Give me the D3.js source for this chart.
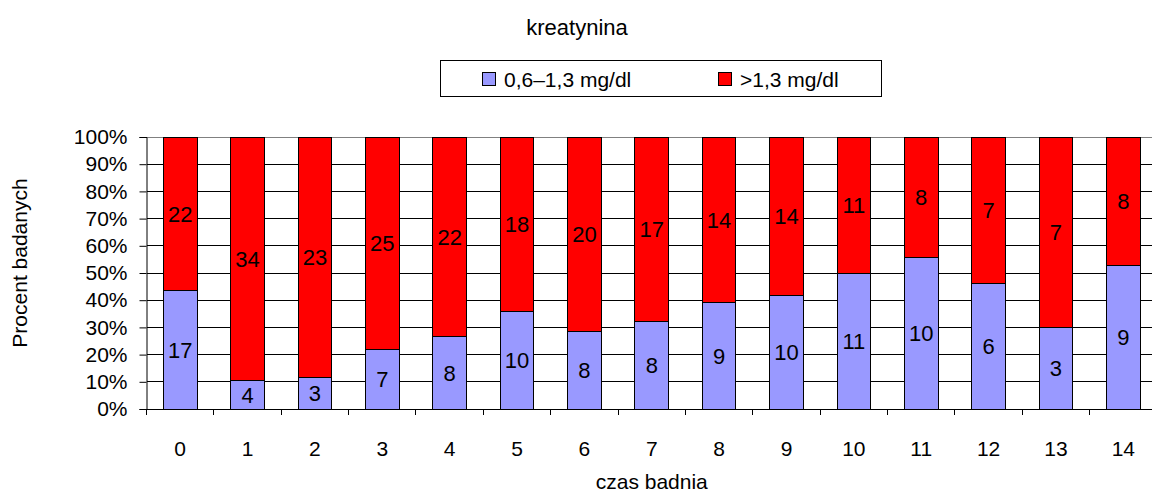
<!DOCTYPE html>
<html>
<head>
<meta charset="utf-8">
<script src="https://cdn.jsdelivr.net/npm/d3@7"></script>
<style>
  body { margin: 0; background: #fff; }
  svg { display: block; font-family: "Liberation Sans", Arial, sans-serif; }
</style>
</head>
<body>
<div id="chart"></div>
<script>
// categories (czas badnia) and counts for each series
const categories = ["0","1","2","3","4","5","6","7","8","9","10","11","12","13","14"];
const lowCounts  = [17, 4, 3, 7, 8, 10, 8, 8, 9, 10, 11, 10, 6, 3, 9];
const highCounts = [22, 34, 23, 25, 22, 18, 20, 17, 14, 14, 11, 8, 7, 7, 8];
const seriesNames = ["0,6\u20131,3 mg/dl", ">1,3 mg/dl"];
const seriesColors = ["#9999FF", "#FF0000"];
const yTicks = [0, 0.1, 0.2, 0.3, 0.4, 0.5, 0.6, 0.7, 0.8, 0.9, 1];

const wid = 1152, hei = 493;
// plot area (runs a bit past the right edge, like the reference)
const pLeft = 146.5, pRight = 1157, pTop = 137, pBottom = 409;

const svg = d3.select("#chart").append("svg")
  .attr("width", wid).attr("height", hei);

// stacked shares
const rows = categories.map((c, i) => ({cat: c, low: lowCounts[i], high: highCounts[i]}));
const stack = d3.stack().keys(["low", "high"]).offset(d3.stackOffsetExpand);
const layers = stack(rows);

const xScale = d3.scaleBand().domain(categories).range([pLeft, pRight])
  .paddingInner(0.5).paddingOuter(0.25);
const yScale = d3.scaleLinear().domain([0, 1]).range([pBottom, pTop]);

// grid lines
svg.append("g")
  .selectAll("line")
  .data(yTicks.slice(1))
  .enter().append("line")
  .attr("x1", pLeft).attr("x2", pRight)
  .attr("y1", d => yScale(d)).attr("y2", d => yScale(d))
  .attr("stroke", (d) => d === 1 ? "#808080" : "#000")
  .attr("stroke-width", 1)
  .attr("shape-rendering", "crispEdges");

// bars
const layerG = svg.selectAll("g.layer")
  .data(layers).enter().append("g")
  .attr("class", "layer")
  .attr("fill", (d, i) => seriesColors[i]);

layerG.selectAll("rect")
  .data(d => d.map(p => ({p, cat: p.data.cat})))
  .enter().append("rect")
  .attr("x", d => xScale(d.cat))
  .attr("y", d => yScale(d.p[1]))
  .attr("width", xScale.bandwidth())
  .attr("height", d => yScale(d.p[0]) - yScale(d.p[1]))
  .attr("stroke", "#000")
  .attr("stroke-width", 1)
  .attr("shape-rendering", "crispEdges");

// data labels (counts) in middle of each segment
layers.forEach((layer, li) => {
  const counts = li === 0 ? lowCounts : highCounts;
  svg.append("g").selectAll("text")
    .data(layer)
    .enter().append("text")
    .attr("x", d => xScale(d.data.cat) + xScale.bandwidth() / 2)
    .attr("y", d => (yScale(d[0]) + yScale(d[1])) / 2)
    .attr("dy", "0.36em")
    .attr("text-anchor", "middle")
    .style("font-size", "22px")
    .attr("fill", "#000")
    .text((d, i) => counts[i]);
});

// x axis
const xAxisStep = xScale.step();
const xAxis = d3.axisBottom(xScale).tickSize(0).tickPadding(32);
const xg = svg.append("g")
  .attr("transform", `translate(0,${pBottom})`)
  .call(xAxis);
xg.select(".domain").remove();
xg.selectAll("text").style("font-size", "21px").attr("fill", "#000");
svg.append("line")
  .attr("x1", pLeft).attr("x2", pRight).attr("y1", pBottom).attr("y2", pBottom)
  .attr("stroke", "#000").attr("shape-rendering", "crispEdges");
// tick marks at category boundaries
svg.append("g").selectAll("line")
  .data(categories)
  .enter().append("line")
  .attr("x1", d => xScale(d) - xAxisStep * 0.25)
  .attr("x2", d => xScale(d) - xAxisStep * 0.25)
  .attr("y1", pBottom).attr("y2", pBottom + 6)
  .attr("stroke", "#000").attr("shape-rendering", "crispEdges");

// y axis
const yAxis = d3.axisLeft(yScale).tickValues(yTicks)
  .tickFormat(d3.format(".0%")).tickSize(7).tickPadding(12);
const yg = svg.append("g")
  .attr("transform", `translate(${pLeft},0)`)
  .call(yAxis);
yg.select(".domain").attr("stroke", "#000");
yg.selectAll("line").attr("stroke", "#000");
yg.selectAll("text").style("font-size", "21px").attr("fill", "#000");

// title
svg.append("text")
  .attr("x", 577).attr("y", 35)
  .attr("text-anchor", "middle")
  .style("font-size", "22px")
  .text("kreatynina");

// axis titles
svg.append("text")
  .attr("x", (pLeft + pRight) / 2).attr("y", 489)
  .attr("text-anchor", "middle")
  .style("font-size", "21px")
  .text("czas badnia");
svg.append("text")
  .attr("transform", "translate(27,263) rotate(-90)")
  .attr("text-anchor", "middle")
  .style("font-size", "21px")
  .text("Procent badanych");

// legend
const legend = svg.append("g");
legend.append("rect")
  .attr("x", 440.5).attr("y", 60.5).attr("width", 441).attr("height", 36)
  .attr("fill", "#fff").attr("stroke", "#000");
const legendX = [482, 718];
seriesNames.forEach((name, i) => {
  legend.append("rect")
    .attr("x", legendX[i] + 0.5).attr("y", 72.5).attr("width", 13).attr("height", 13)
    .attr("fill", seriesColors[i]).attr("stroke", "#000");
  legend.append("text")
    .attr("x", legendX[i] + 22).attr("y", 87)
    .style("font-size", "21px")
    .text(name);
});
</script>
</body>
</html>
